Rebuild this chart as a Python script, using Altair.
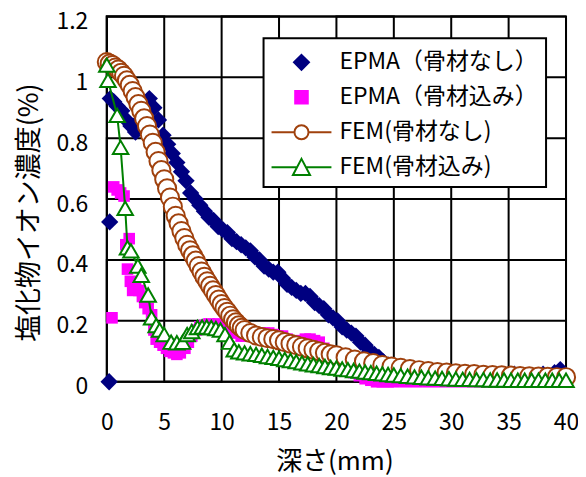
import altair as alt
import pandas as pd

FONT = "Noto Sans CJK JP"
NAMES = ["EPMA（骨材なし）", "EPMA（骨材込み）", "FEM(骨材なし)", "FEM(骨材込み)"]
NAVY, MAGENTA, BROWN, GREEN = "#000080", "#FF00FF", "#A0410D", "#008000"

X_TICKS = [0, 5, 10, 15, 20, 25, 30, 35, 40]
Y_TICKS = [0, 0.2, 0.4, 0.6, 0.8, 1.0, 1.2]

# EPMA (no aggregate)
epma_n_x = [0.2, 0.25, 0.3, 0.6, 0.9, 1.3, 1.7, 2.1, 2.5, 2.9,
            3.3, 3.7, 4.1, 4.5, 4.9, 5.3, 5.7, 6.1, 6.5, 6.9,
            7.3, 7.7, 8.1, 8.5, 8.9, 9.3, 9.7, 10.1, 10.5, 10.9,
            11.3, 11.7, 12.1, 12.5, 12.9, 13.3, 13.7, 14.1, 14.5, 14.9,
            15.3, 15.7, 16.1, 16.5, 16.9, 17.3, 17.7, 18.1, 18.5, 18.9,
            19.3, 19.7, 20.1, 20.5, 20.9, 21.3, 21.7, 22.1, 22.5, 22.9,
            23.3, 23.7, 24.1, 24.5, 24.9, 25.3, 25.7, 26.1, 26.5, 27.0,
            27.5, 28.0, 28.5, 29.0, 29.5, 30.0, 30.5, 31.0, 31.5, 32.0,
            32.5, 33.0, 33.5, 34.0, 34.5, 35.0, 35.5, 36.0, 36.5, 37.0,
            37.5, 38.0, 38.5, 39.0, 39.5, 40.0]
epma_n_y = [0.0, 0.525, 0.93, 0.92, 0.905, 0.89, 0.86, 0.84, 0.82, 0.86,
            0.91, 0.93, 0.90, 0.86, 0.81, 0.78, 0.75, 0.72, 0.69, 0.66,
            0.62, 0.60, 0.58, 0.56, 0.54, 0.53, 0.51, 0.50, 0.49, 0.47,
            0.46, 0.45, 0.44, 0.43, 0.41, 0.40, 0.38, 0.37, 0.36, 0.36,
            0.34, 0.32, 0.31, 0.30, 0.29, 0.29, 0.28, 0.26, 0.25, 0.24,
            0.22, 0.21, 0.20, 0.18, 0.17, 0.16, 0.15, 0.13, 0.12, 0.10,
            0.09, 0.08, 0.065, 0.055, 0.045, 0.035, 0.03, 0.025, 0.02, 0.02,
            0.025, 0.02, 0.02, 0.025, 0.02, 0.02, 0.02, 0.025, 0.02, 0.02,
            0.02, 0.025, 0.02, 0.02, 0.02, 0.02, 0.025, 0.02, 0.02, 0.02,
            0.02, 0.025, 0.02, 0.03, 0.04, 0.02]

# EPMA (with aggregate)
epma_a_x = [0.45, 0.6, 0.9, 1.2, 1.5, 1.65, 1.8, 1.95, 2.05, 2.25,
            2.5, 2.8, 3.1, 3.3, 3.6, 3.9, 4.1, 4.3, 4.6, 4.9,
            5.2, 5.5, 5.8, 6.1, 6.4, 6.8, 7.1, 7.4, 7.8, 8.1,
            8.5, 8.9, 9.3, 9.7, 10.1, 10.5, 10.9, 11.3, 11.7, 12.1,
            12.5, 12.9, 13.3, 13.7, 14.1, 14.5, 14.9, 15.3, 15.7, 16.1,
            16.5, 16.9, 17.3, 17.7, 18.1, 18.5, 18.9, 19.3, 19.7, 20.1,
            20.5, 21.0, 21.5, 22.0, 22.5, 23.0, 23.5, 24.0, 24.5, 25.0,
            25.5, 26.0, 26.5, 27.0, 27.5, 28.0, 28.5, 29.0, 29.5, 30.0,
            30.5, 31.0, 31.5, 32.0, 32.5, 33.0, 33.5, 34.0, 34.5, 35.0,
            35.5, 36.0, 36.5, 37.0, 37.5, 38.0, 38.5, 39.0, 39.5, 40.0]
epma_a_y = [0.21, 0.64, 0.63, 0.62, 0.61, 0.45, 0.37, 0.47, 0.33, 0.30,
            0.31, 0.30, 0.28, 0.26, 0.24, 0.22, 0.17, 0.14, 0.13, 0.12,
            0.11, 0.10, 0.095, 0.09, 0.095, 0.11, 0.13, 0.15, 0.17, 0.18,
            0.185, 0.19, 0.185, 0.19, 0.18, 0.18, 0.17, 0.16, 0.15, 0.15,
            0.15, 0.155, 0.16, 0.16, 0.16, 0.155, 0.15, 0.15, 0.14, 0.13,
            0.13, 0.135, 0.14, 0.14, 0.135, 0.13, 0.11, 0.09, 0.08, 0.06,
            0.05, 0.04, 0.03, 0.02, 0.01, 0.005, 0.0, 0.0, 0.0, 0.0,
            0.003, 0.0, 0.003, 0.0, 0.003, 0.0, 0.003, 0.0, 0.003, 0.0,
            0.003, 0.0, 0.003, 0.0, 0.003, 0.0, 0.003, 0.0, 0.003, 0.0,
            0.003, 0.0, 0.003, 0.0, 0.003, 0.0, 0.003, 0.0, 0.003, 0.0]

# FEM (no aggregate)
fem_n_x = [0.0, 0.25, 0.5, 0.75, 1.0, 1.25, 1.5, 1.75, 2.0, 2.25,
           2.5, 2.75, 3.0, 3.25, 3.5, 3.75, 4.0, 4.25, 4.5, 4.75,
           5.0, 5.25, 5.5, 5.75, 6.0, 6.25, 6.5, 6.75, 7.0, 7.25,
           7.5, 7.75, 8.0, 8.25, 8.5, 8.75, 9.0, 9.25, 9.5, 9.75,
           10.0, 10.25, 10.5, 10.75, 11.0, 11.25, 11.5, 11.75, 12.0, 12.5,
           13.0, 13.5, 14.0, 14.5, 15.0, 15.5, 16.0, 16.5, 17.0, 17.5,
           18.0, 18.5, 19.0, 19.5, 20.0, 20.8, 21.6, 22.4, 23.2, 24.0,
           24.8, 25.6, 26.4, 27.2, 28.0, 28.8, 29.6, 30.4, 31.2, 32.0,
           32.8, 33.6, 34.4, 35.2, 36.0, 36.8, 37.6, 38.4, 39.2, 40.0]
fem_n_y = [1.05, 1.045, 1.04, 1.032, 1.025, 1.015, 1.005, 0.99, 0.975, 0.955,
           0.935, 0.912, 0.89, 0.865, 0.84, 0.812, 0.785, 0.755, 0.725, 0.695,
           0.665, 0.635, 0.605, 0.575, 0.545, 0.52, 0.495, 0.472, 0.45, 0.432,
           0.415, 0.398, 0.38, 0.362, 0.345, 0.33, 0.315, 0.30, 0.285, 0.27,
           0.255, 0.242, 0.23, 0.217, 0.205, 0.195, 0.185, 0.177, 0.17, 0.16,
           0.152, 0.147, 0.143, 0.14, 0.136, 0.13, 0.125, 0.12, 0.115, 0.11,
           0.105, 0.10, 0.095, 0.09, 0.087, 0.08, 0.073, 0.067, 0.061, 0.055,
           0.05, 0.046, 0.042, 0.038, 0.035, 0.032, 0.03, 0.028, 0.026, 0.025,
           0.023, 0.022, 0.021, 0.02, 0.019, 0.018, 0.017, 0.016, 0.015, 0.015]

# FEM (with aggregate)
fem_a_x = [0.0, 0.1, 0.9, 1.2, 1.6, 1.8, 2.1, 2.7, 3.0, 3.6,
           3.9, 4.3, 4.6, 5.0, 5.6, 6.1, 6.6, 7.0, 7.4, 7.9,
           8.3, 8.7, 9.1, 9.5, 9.9, 10.3, 10.7, 11.1, 11.5, 12.0,
           12.5, 13.0, 13.5, 14.0, 14.5, 15.0, 15.5, 16.0, 16.5, 17.0,
           17.5, 18.0, 18.5, 19.0, 19.5, 20.0, 20.5, 21.0, 21.5, 22.0,
           22.5, 23.0, 23.5, 24.0, 24.5, 25.0, 25.6, 26.2, 26.8, 27.4,
           28.0, 28.6, 29.2, 29.8, 30.4, 31.0, 31.6, 32.2, 32.8, 33.4,
           34.0, 34.6, 35.2, 35.8, 36.4, 37.0, 37.6, 38.2, 38.8, 39.4,
           40.0]
fem_a_y = [1.04, 0.99, 0.875, 0.77, 0.57, 0.44, 0.43, 0.38, 0.35, 0.285,
           0.21, 0.185, 0.17, 0.155, 0.13, 0.128, 0.13, 0.155, 0.165, 0.178,
           0.18, 0.18, 0.178, 0.175, 0.17, 0.155, 0.13, 0.105, 0.098, 0.095,
           0.092, 0.09, 0.087, 0.083, 0.08, 0.077, 0.073, 0.07, 0.066, 0.062,
           0.059, 0.056, 0.053, 0.05, 0.047, 0.045, 0.042, 0.04, 0.037, 0.035,
           0.032, 0.03, 0.028, 0.026, 0.024, 0.022, 0.02, 0.018, 0.016, 0.015,
           0.013, 0.012, 0.011, 0.01, 0.009, 0.008, 0.008, 0.007, 0.007, 0.006,
           0.006, 0.006, 0.005, 0.005, 0.005, 0.005, 0.005, 0.005, 0.005, 0.005,
           0.005]


def frame(xs, ys, name):
    return pd.DataFrame({"x": xs, "y": ys, "series": name})


d1 = frame(epma_n_x, epma_n_y, NAMES[0])
d2 = frame(epma_a_x, epma_a_y, NAMES[1])
d3 = frame(fem_n_x, fem_n_y, NAMES[2])
d4 = frame(fem_a_x, fem_a_y, NAMES[3])
dall = pd.concat([d1, d2, d3, d4], ignore_index=True)

# grid: one serpentine path through all vertical lines, one through all horizontal
y_lo, y_hi = Y_TICKS[0], Y_TICKS[-1]
x_lo, x_hi = X_TICKS[0], X_TICKS[-1]
gxs, gys, gos, ggs = [], [], [], []
k = 0
for i, t in enumerate(X_TICKS):
    ends = (y_lo, y_hi) if i % 2 == 0 else (y_hi, y_lo)
    for v in ends:
        gxs.append(t); gys.append(v); gos.append(k); ggs.append("v"); k += 1
for j, t in enumerate(Y_TICKS):
    ends = (x_lo, x_hi) if j % 2 == 0 else (x_hi, x_lo)
    for v in ends:
        gxs.append(v); gys.append(t); gos.append(k); ggs.append("h"); k += 1
grid = pd.DataFrame({"x": gxs, "y": gys, "o": gos, "g": ggs})

XSCALE = alt.Scale(domain=[x_lo, x_hi], nice=False, zero=False)
YSCALE = alt.Scale(domain=[y_lo, y_hi], nice=False, zero=False)

AX_X = alt.Axis(values=X_TICKS, title="深さ(mm)", grid=False, ticks=False, domain=False,
                labelFont=FONT, labelFontSize=23, labelColor="black", labelPadding=30,
                labelFlush=False, labelOverlap=False,
                titleFont=FONT, titleFontSize=26, titleFontWeight="normal",
                titleColor="black", titleX=228, titleY=80, titleBaseline="middle")
AX_Y = alt.Axis(values=Y_TICKS, format="~g", title="塩化物イオン濃度(%)", grid=False,
                ticks=False, domain=False, labelFont=FONT, labelFontSize=23,
                labelColor="black", labelPadding=19, labelOffset=5, labelFlush=False,
                labelOverlap=False,
                titleFont=FONT, titleFontSize=27, titleFontWeight="normal",
                titleColor="black", titleX=-77, titleY=196, titleBaseline="middle",
                titleAngle=270)

X = alt.X("x:Q", scale=XSCALE, axis=AX_X)
Y = alt.Y("y:Q", scale=YSCALE, axis=AX_Y)

glines = alt.Chart(grid).mark_line(color="#000000", strokeWidth=2, strokeJoin="miter",
                                   opacity=1).encode(
    x=X, y=Y, detail="g:N", order=alt.Order("o:Q"))

p1 = alt.Chart(d1).mark_point(shape="diamond", filled=True, color=NAVY, size=300,
                              opacity=1).encode(x=X, y=Y)
p2 = alt.Chart(d2).mark_point(shape="square", filled=True, color=MAGENTA, size=135,
                              opacity=1).encode(x=X, y=Y)
l3 = alt.Chart(d3).mark_line(color=BROWN, strokeWidth=2).encode(x=X, y=Y)
p3 = alt.Chart(d3).mark_point(shape="circle", fill="white", stroke=BROWN, strokeWidth=2,
                              size=330, opacity=1, fillOpacity=1).encode(x=X, y=Y)
l4 = alt.Chart(d4).mark_line(color=GREEN, strokeWidth=2).encode(x=X, y=Y)
p4 = alt.Chart(d4).mark_point(shape="triangle-up", fill="white", stroke=GREEN, strokeWidth=2,
                              size=240, opacity=1, fillOpacity=1).encode(x=X, y=Y)

LEG_PATHS = [
    "M0,-0.5L0.5,0L0,0.5L-0.5,0Z",
    "M-0.42,-0.42H0.42V0.42H-0.42Z",
    "M-2,0H-0.47M0.47,0H2M-0.47,0A0.47,0.47,0,1,0,0.47,0A0.47,0.47,0,1,0,-0.47,0Z",
    "M-2,0H-0.28M0.28,0H2M0,-0.55L0.57,0.53H-0.57Z",
]
leg = alt.Legend(title=None, orient="none", legendX=157, legendY=22, fillColor="white",
                 strokeColor="black", padding=8, rowPadding=7, symbolSize=900,
                 symbolStrokeWidth=2, symbolOffset=14, labelOffset=22, symbolOpacity=1,
                 labelFont=FONT, labelFontSize=23, labelColor="black", labelLimit=400)
plegend = alt.Chart(dall).mark_point(opacity=0).encode(
    x=X, y=Y,
    shape=alt.Shape("series:N", scale=alt.Scale(domain=NAMES, range=LEG_PATHS), legend=leg),
    stroke=alt.Stroke("series:N", scale=alt.Scale(domain=NAMES, range=[NAVY, MAGENTA, BROWN, GREEN]),
                      legend=leg),
    fill=alt.Fill("series:N", scale=alt.Scale(domain=NAMES, range=[NAVY, MAGENTA, "white", "white"]),
                  legend=leg),
)

chart = alt.layer(glines, p1, p2, l3, p3, l4, p4, plegend).properties(
    width=460, height=366,
    autosize=alt.AutoSizeParams(type="none"),
    padding={"left": 99, "top": 8, "right": 12, "bottom": 100},
    background="white",
).configure_view(stroke="black", strokeWidth=2).configure_legend(strokeWidth=2)

chart.save("out.html", embed_options={"renderer": "svg", "actions": False})
